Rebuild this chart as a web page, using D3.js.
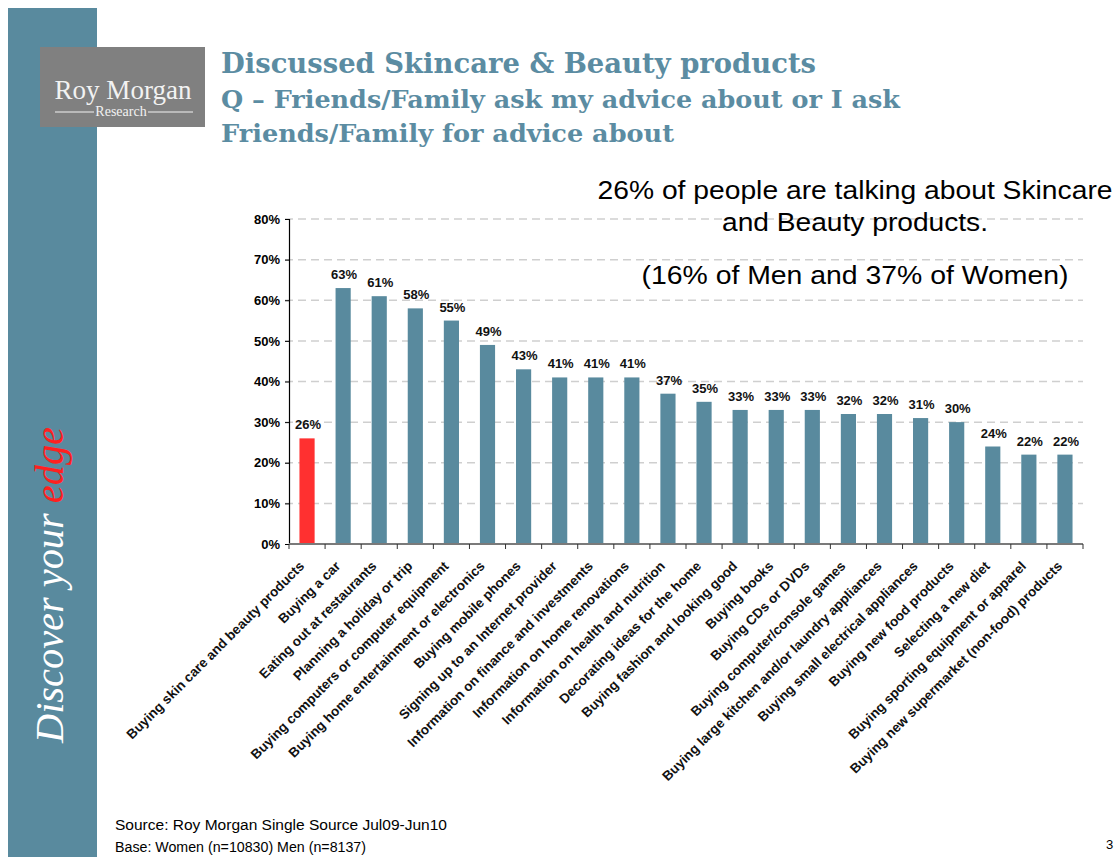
<!DOCTYPE html>
<html>
<head>
<meta charset="utf-8">
<script src="https://cdn.jsdelivr.net/npm/d3@7"></script>
<style>
  html, body { margin: 0; padding: 0; background: #fff; }
  svg { display: block; }
</style>
</head>
<body>
<svg id="slide" width="1117" height="857"></svg>
<script>
// Topics asked about (share of respondents giving or seeking advice)
const categories = [
  "Buying skin care and beauty products",
  "Buying a car",
  "Eating out at restaurants",
  "Planning a holiday or trip",
  "Buying computers or computer equipment",
  "Buying home entertainment or electronics",
  "Buying mobile phones",
  "Signing up to an Internet provider",
  "Information on finance and investments",
  "Information on home renovations",
  "Information on health and nutrition",
  "Decorating ideas for the home",
  "Buying fashion and looking good",
  "Buying books",
  "Buying CDs or DVDs",
  "Buying computer/console games",
  "Buying large kitchen and/or laundry appliances",
  "Buying small electrical appliances",
  "Buying new food products",
  "Selecting a new diet",
  "Buying sporting equipment or apparel",
  "Buying new supermarket (non-food) products"
];
const values = [26, 63, 61, 58, 55, 49, 43, 41, 41, 41, 37, 35, 33, 33, 33, 32, 32, 31, 30, 24, 22, 22];
const highlighted = ["Buying skin care and beauty products"];
const yTicks = [0, 10, 20, 30, 40, 50, 60, 70, 80];

const titleLines = [
  "Discussed Skincare & Beauty products",
  "Q \u2013 Friends/Family ask my advice about or I ask",
  "Friends/Family for advice about"
];
const noteLines = [
  "26% of people are talking about Skincare",
  "and Beauty products.",
  "(16% of Men and 37% of Women)"
];
const footerLines = [
  "Source: Roy Morgan Single Source Jul09-Jun10",
  "Base: Women (n=10830) Men (n=8137)"
];

const TEAL = "#598a9e";
const RED = "#ff3030";

const svg = d3.select("#slide");

// ---- side band with slogan ----
svg.append("rect").attr("x", 8).attr("y", 8).attr("width", 89).attr("height", 849).attr("fill", TEAL);

const slogan = svg.append("text")
  .attr("transform", "translate(63,743) rotate(-90)")
  .attr("font-family", "'Liberation Serif', 'Times New Roman', serif")
  .attr("font-style", "italic")
  .attr("font-size", 40)
  .attr("textLength", 316)
  .attr("lengthAdjust", "spacingAndGlyphs")
  .attr("fill", "#ffffff");
slogan.append("tspan").text("Discover your ");
slogan.append("tspan").attr("fill", "#ff2020").text("edge");

// ---- logo block ----
const logo = svg.append("g");
logo.append("rect").attr("x", 40).attr("y", 47).attr("width", 165).attr("height", 80).attr("fill", "#808080");
logo.append("text").attr("x", 123).attr("y", 99).attr("text-anchor", "middle")
  .attr("font-family", "'Liberation Serif', 'Times New Roman', serif").attr("font-size", 27)
  .attr("fill", "#f2f2f2").attr("textLength", 137).attr("lengthAdjust", "spacingAndGlyphs")
  .text("Roy Morgan");
logo.append("text").attr("x", 121).attr("y", 116).attr("text-anchor", "middle")
  .attr("font-family", "'Liberation Serif', 'Times New Roman', serif").attr("font-size", 14)
  .attr("fill", "#f2f2f2").text("Research");
logo.append("line").attr("x1", 55).attr("x2", 94).attr("y1", 112).attr("y2", 112).attr("stroke", "#f2f2f2").attr("stroke-width", 1);
logo.append("line").attr("x1", 148).attr("x2", 193).attr("y1", 112).attr("y2", 112).attr("stroke", "#f2f2f2").attr("stroke-width", 1);

// ---- title ----
const titleSpec = [
  { y: 73, size: 27, len: 595 },
  { y: 108, size: 25, len: 679 },
  { y: 142, size: 25, len: 453 }
];
svg.append("g").selectAll("text").data(titleLines).join("text")
  .attr("x", 221)
  .attr("y", (d, i) => titleSpec[i].y)
  .attr("font-family", "'DejaVu Serif', serif")
  .attr("font-weight", "bold")
  .attr("font-size", (d, i) => titleSpec[i].size)
  .attr("textLength", (d, i) => titleSpec[i].len)
  .attr("lengthAdjust", "spacingAndGlyphs")
  .attr("fill", "#5b8ca2")
  .text(d => d);

// ---- chart ----
const x0 = 289, x1 = 1083, yTop = 219, yBase = 544;
const x = d3.scaleBand().domain(categories).range([x0, x1]).paddingInner(0.58).paddingOuter(0.29);
const y = d3.scaleLinear().domain([0, 80]).range([yBase, yTop]);

// dashed gridlines
svg.append("g").selectAll("line").data(yTicks.filter(t => t > 0)).join("line")
  .attr("x1", x0 - 4).attr("x2", x1)
  .attr("y1", d => y(d)).attr("y2", d => y(d))
  .attr("stroke", "#cfcfcf").attr("stroke-width", 1.5).attr("stroke-dasharray", "8,5");

// y axis
const yAxis = d3.axisLeft(y).tickValues(yTicks).tickSize(4).tickPadding(5).tickFormat(d => d + "%");
const yg = svg.append("g").attr("transform", `translate(${x0},0)`).call(yAxis);
yg.select(".domain").attr("stroke", "#000").attr("stroke-width", 1.2);
yg.selectAll(".tick line").attr("stroke", "#000");
yg.selectAll("text").attr("font-family", "'Liberation Sans', Arial, sans-serif")
  .attr("font-weight", "bold").attr("font-size", 13).attr("fill", "#000");

// bars
svg.append("g").selectAll("rect").data(categories).join("rect")
  .attr("x", d => x(d))
  .attr("width", x.bandwidth())
  .attr("y", (d, i) => y(values[i]))
  .attr("height", (d, i) => yBase - y(values[i]))
  .attr("fill", d => highlighted.includes(d) ? RED : TEAL);

// value labels
svg.append("g").selectAll("text").data(categories).join("text")
  .attr("x", d => x(d) + x.bandwidth() / 2 + 1)
  .attr("y", (d, i) => y(values[i]) - 9)
  .attr("text-anchor", "middle")
  .attr("font-family", "'Liberation Sans', Arial, sans-serif")
  .attr("font-weight", "bold").attr("font-size", 13).attr("fill", "#111")
  .text((d, i) => values[i] + "%");

// x axis: grey base line and slot boundary ticks
const step = x.step();
svg.append("line").attr("x1", x0).attr("x2", x1).attr("y1", yBase).attr("y2", yBase)
  .attr("stroke", "#7a7a7a").attr("stroke-width", 2);
svg.append("g").selectAll("line").data(d3.range(categories.length + 1)).join("line")
  .attr("x1", i => x0 + i * step).attr("x2", i => x0 + i * step)
  .attr("y1", yBase).attr("y2", yBase + 5)
  .attr("stroke", "#333").attr("stroke-width", 1);

// rotated category labels
svg.append("g").selectAll("text").data(categories).join("text")
  .attr("transform", d => `translate(${x(d) + x.bandwidth() / 2 - 2},${yBase + 23}) rotate(-45)`)
  .attr("text-anchor", "end")
  .attr("font-family", "'Liberation Sans', Arial, sans-serif")
  .attr("font-weight", "bold").attr("font-size", 13.5).attr("fill", "#111")
  .text(d => d);

// ---- call-out ----
const noteSpec = [{ y: 199, len: 515 }, { y: 231, len: 266 }, { y: 284, len: 427 }];
svg.append("g").selectAll("text").data(noteLines).join("text")
  .attr("x", 855)
  .attr("y", (d, i) => noteSpec[i].y)
  .attr("text-anchor", "middle")
  .attr("font-family", "'Liberation Sans', Arial, sans-serif")
  .attr("font-size", 26)
  .attr("textLength", (d, i) => noteSpec[i].len)
  .attr("lengthAdjust", "spacingAndGlyphs")
  .attr("fill", "#000")
  .text(d => d);

// ---- footer ----
const footerLen = [332, 251];
svg.append("g").selectAll("text").data(footerLines).join("text")
  .attr("x", 115)
  .attr("y", (d, i) => 830 + i * 22)
  .attr("font-family", "'Liberation Sans', Arial, sans-serif")
  .attr("font-size", 14)
  .attr("textLength", (d, i) => footerLen[i])
  .attr("lengthAdjust", "spacingAndGlyphs")
  .attr("fill", "#000")
  .text(d => d);

svg.append("text").attr("x", 1106).attr("y", 849)
  .attr("font-family", "'Liberation Sans', Arial, sans-serif").attr("font-size", 13)
  .text("3");
</script>
</body>
</html>
